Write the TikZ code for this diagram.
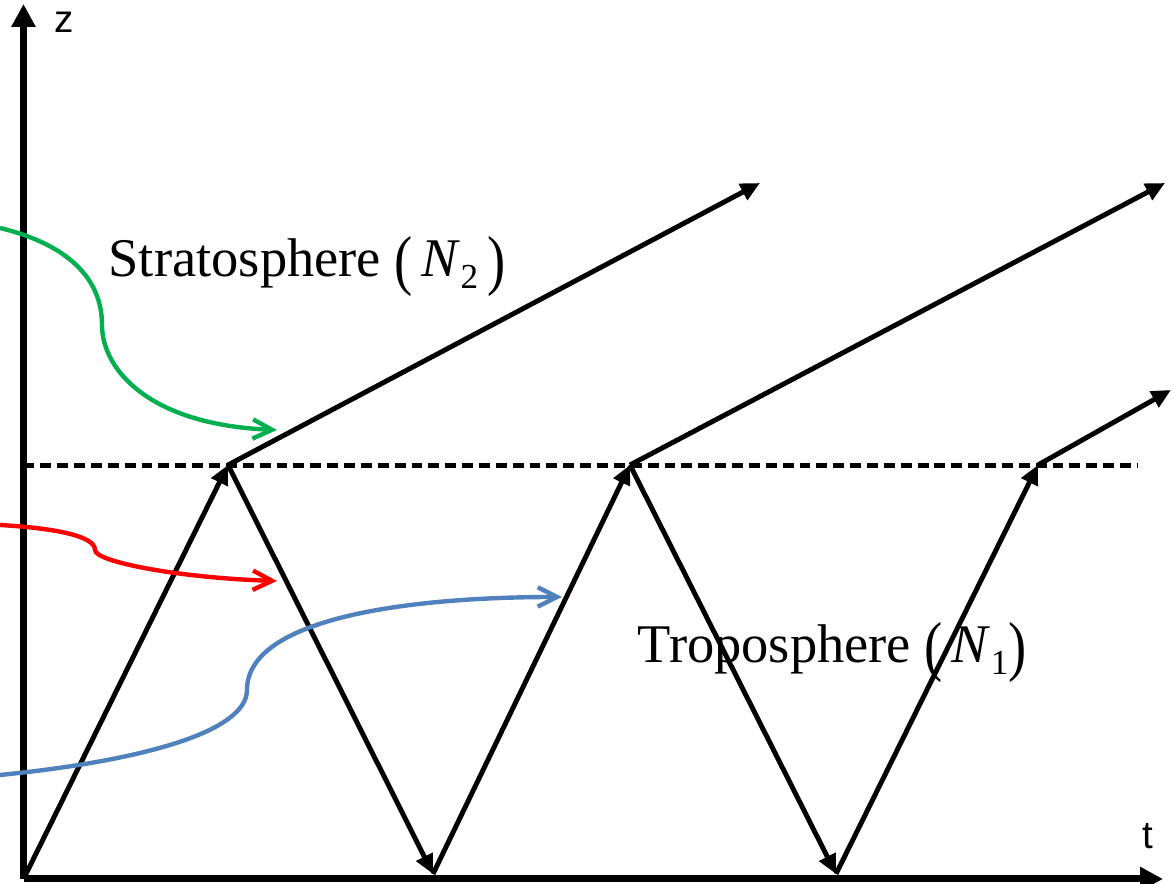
\documentclass[tikz,border=0pt]{standalone}
\usepackage{fontspec}
\usepackage{graphicx}
\setmainfont{Liberation Serif}
\newfontfamily\axisfont{Liberation Sans}
\usetikzlibrary{arrows.meta}
\definecolor{cgreen}{HTML}{00B050}
\definecolor{cred}{HTML}{FF0000}
\definecolor{cblue}{HTML}{4F81BD}
\newcommand{\tallpar}[1]{\raisebox{-0.1em}{\scalebox{1}[1.22]{#1}}}
\newcommand{\lowidx}[1]{\raisebox{-0.22em}{\fontsize{10}{10}\selectfont #1}}
\tikzset{
  axisline/.style={line width=2pt, -{Triangle[length=6.5pt,width=6.5pt]}},
  ray/.style={line width=1.4pt, -{Triangle[length=5.5pt,width=5pt]}},
  tropopause/.style={line width=1.5pt, dash pattern=on 3.1pt off 1.7pt},
  pointer/.style={draw=#1, line width=1.25pt, -{Straight Barb[length=5.5pt,width=5.5pt]}},
  region/.style={font=\fontsize{15.5}{18}\selectfont, inner sep=0pt, anchor=base west},
  axlabel/.style={font=\axisfont\fontsize{11}{13}\selectfont, inner sep=0pt},
}

\begin{document}
\begin{tikzpicture}
  \useasboundingbox (0,0) rectangle (11.74,8.84);
  % axes
  \coordinate (o) at (0.235,0.05);
  \coordinate (ztop) at (0.235,8.80);
  \coordinate (tend) at (11.63,0.05);
  \draw[axisline] (o) -- (ztop);
  \draw[axisline] (o) -- (tend);
  \node[axlabel] (zlab) at (0.64,8.62) {z};
  \node[axlabel] (tlab) at (11.48,0.48) {t};
  % tropopause
  \coordinate (dl) at (0.235,4.185);
  \coordinate (dr) at (11.38,4.185);
  \draw[tropopause] (dl) -- (dr);
  % zigzag and escaping rays
  \coordinate (p1) at (2.28,4.19);
  \coordinate (b1) at (4.33,0.10);
  \coordinate (p2) at (6.30,4.19);
  \coordinate (b2) at (8.36,0.10);
  \coordinate (p3) at (10.38,4.19);
  \coordinate (e1) at (7.60,7.01);
  \coordinate (e2) at (11.65,7.01);
  \coordinate (e3) at (11.71,4.94);
  \draw[ray] (o) -- (p1); \draw[ray] (p1) -- (b1); \draw[ray] (b1) -- (p2);
  \draw[ray] (p2) -- (b2); \draw[ray] (b2) -- (p3);
  \draw[ray] (p1) -- (e1); \draw[ray] (p2) -- (e2); \draw[ray] (p3) -- (e3);
  % labels
  \node[region] (strat) at (1.08,6.07) {Stratosphere \tallpar{(}\,\textit{N}\lowidx{2}\,\tallpar{)}};
  \node[region] (tropo) at (6.37,2.21) {Troposphere \tallpar{(}\,\textit{N}\lowidx{1}\tallpar{)}};
  % pointers from the left
  \coordinate (g0) at (0,6.56); \coordinate (g1) at (1.02,5.59); \coordinate (g2) at (2.77,4.54);
  \coordinate (r0) at (0,3.59); \coordinate (r1) at (0.95,3.34); \coordinate (r2) at (2.77,3.03);
  \coordinate (u0) at (0,1.09); \coordinate (u1) at (2.47,1.94); \coordinate (u2) at (5.62,2.87);
  \draw[pointer=cgreen] (g0) .. controls (0.70,6.39) and (1.02,6.04) .. (g1)
    .. controls (1.02,5.14) and (1.50,4.59) .. (g2);
  \draw[pointer=cred] (r0) .. controls (0.50,3.56) and (0.95,3.49) .. (r1)
    .. controls (0.95,3.22) and (1.80,3.06) .. (r2);
  \draw[pointer=cblue] (u0) .. controls (1.50,1.24) and (2.47,1.54) .. (u1)
    .. controls (2.47,2.64) and (4.00,2.87) .. (u2);
\end{tikzpicture}
\end{document}
